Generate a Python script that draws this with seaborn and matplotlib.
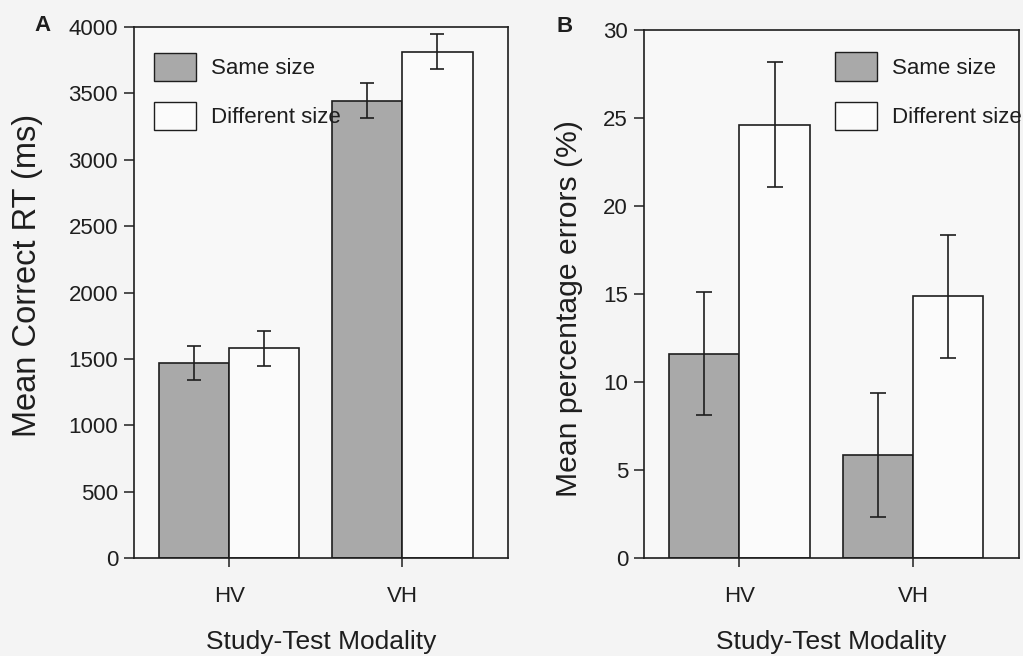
import matplotlib
matplotlib.use("Agg")
import matplotlib.pyplot as plt
import pandas as pd
import seaborn as sns

# Study-test modality conditions and size conditions
modalities = ["HV", "VH"]
size_conditions = ["Same size", "Different size"]

# Panel A: mean correct RT (ms) and error bar half-widths
rt_same = [1470, 3445]
rt_diff = [1580, 3815]
rt_same_err = [130, 130]
rt_diff_err = [133, 132]

# Panel B: mean percentage errors and error bar half-widths
pe_same = [11.6, 5.85]
pe_diff = [24.6, 14.85]
pe_same_err = [3.5, 3.5]
pe_diff_err = [3.55, 3.5]

rt_ticks = [0, 500, 1000, 1500, 2000, 2500, 3000, 3500, 4000]
pe_ticks = [0, 5, 10, 15, 20, 25, 30]

GRAY = "#a9a9a9"
WHITE = "#fbfbfb"
INK = "#1e1e1e"

sns.set_theme(style="ticks")
plt.rcParams["font.family"] = ["Liberation Sans", "DejaVu Sans"]
plt.rcParams["text.color"] = INK
plt.rcParams["axes.labelcolor"] = INK
plt.rcParams["xtick.color"] = INK
plt.rcParams["ytick.color"] = INK


def long_table(same, diff):
    rows = []
    for cond, vals in zip(size_conditions, [same, diff]):
        for m, v in zip(modalities, vals):
            rows.append({"Modality": m, "Condition": cond, "Value": v})
    return pd.DataFrame(rows)


def draw_panel(ax, same, diff, errs, ticks, ylabel, ylabel_size, ylabel_xy,
               letter, letter_xy, leg_anchor, capsize):
    df = long_table(same, diff)
    sns.barplot(data=df, x="Modality", y="Value", hue="Condition",
                hue_order=size_conditions, order=modalities,
                palette=[GRAY, WHITE], errorbar=None, width=0.81,
                edgecolor=INK, linewidth=1.2, saturation=1, ax=ax)
    # error bars placed on the drawn bars
    for container, err in zip(ax.containers, errs):
        xs = [b.get_x() + b.get_width() / 2 for b in container]
        ys = [b.get_height() for b in container]
        ax.errorbar(xs, ys, yerr=err, fmt="none", ecolor=INK,
                    elinewidth=1.2, capsize=capsize, capthick=1.2, zorder=5)

    ax.set_xlim(-0.55, 1.61)
    ax.set_ylim(ticks[0], ticks[-1])
    ax.set_yticks(ticks)
    ax.set_facecolor("#f8f8f8")
    for s in ax.spines.values():
        s.set_visible(True)
        s.set_color(INK)
        s.set_linewidth(1.2)
    ax.tick_params(axis="y", direction="out", length=7.5, width=1.1,
                   labelsize=16, pad=4)
    ax.tick_params(axis="x", direction="out", length=6.5, width=1.1,
                   labelsize=16, pad=14)
    ax.set_xlabel("Study-Test Modality", fontsize=19, labelpad=16)
    ax.set_ylabel(ylabel, fontsize=ylabel_size)
    ax.yaxis.set_label_coords(*ylabel_xy)

    handles, labels = ax.get_legend_handles_labels()
    leg = ax.legend(handles, labels, loc="upper left",
                    bbox_to_anchor=leg_anchor, frameon=False, fontsize=16,
                    handlelength=1.9, handleheight=1.58, labelspacing=0.95,
                    handletextpad=0.68, borderpad=0, borderaxespad=0)
    for p in leg.get_patches():
        p.set_edgecolor(INK)
        p.set_linewidth(1.0)
    leg.set_zorder(10)

    ax.text(letter_xy[0], letter_xy[1], letter, transform=ax.transAxes,
            fontsize=16, fontweight="bold", ha="left", va="center", color=INK)


fig = plt.figure(figsize=(10.23, 6.56), dpi=100, facecolor="#f4f4f4")
ax_a = fig.add_axes([0.131, 0.1494, 0.3656, 0.8094])
ax_b = fig.add_axes([0.6295, 0.1494, 0.3665, 0.8056])

draw_panel(ax_a, rt_same, rt_diff, [rt_same_err, rt_diff_err], rt_ticks,
           "Mean Correct RT (ms)", 23.5, (-0.243, 0.532),
           "A", (-0.265, 1.002), (0.053, 0.952), 4.7)
draw_panel(ax_b, pe_same, pe_diff, [pe_same_err, pe_diff_err], pe_ticks,
           "Mean percentage errors (%)", 21.7, (-0.163, 0.472),
           "B", (-0.232, 1.006), (0.509, 0.957), 6.0)

fig.savefig("out.png", dpi=100, facecolor=fig.get_facecolor())
